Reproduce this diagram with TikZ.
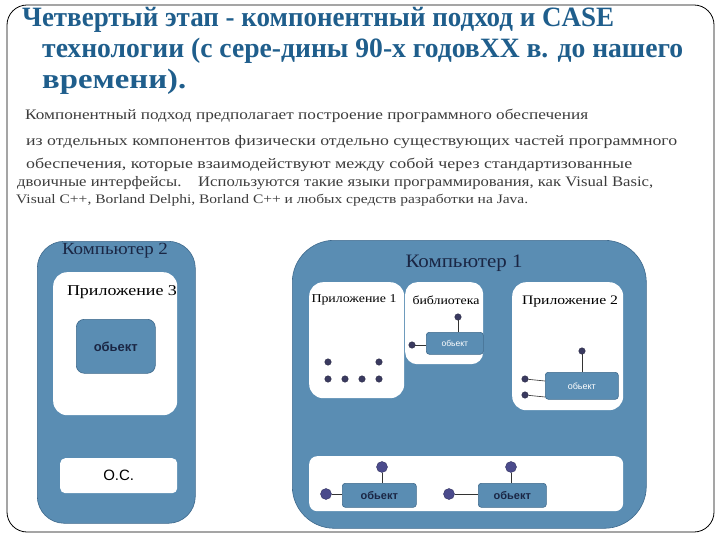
\documentclass[tikz,border=0pt]{standalone}
\usepackage{fontspec}
\usepackage{graphicx}
\setmainfont{Liberation Serif}
\newfontfamily\sansf{Liberation Sans}
\definecolor{ttl}{RGB}{31,94,140}
\definecolor{ptxt}{RGB}{60,60,60}
\definecolor{cblue}{RGB}{90,141,179}
\definecolor{cedge}{RGB}{62,105,140}
\definecolor{dotc}{RGB}{58,58,96}
\definecolor{dotb}{RGB}{75,75,140}
\definecolor{lbl}{RGB}{26,38,68}
\newcommand{\fitw}[2]{\resizebox{#1pt}{\height}{#2}}
\begin{document}
\begin{tikzpicture}[x=1pt,y=-1pt,
  txt/.style={inner sep=0pt,anchor=base west},
  comp/.style={draw=cedge,line width=0.6pt,fill=cblue,anchor=north west,inner sep=0pt},
  wbox/.style={fill=white,anchor=north west,inner sep=0pt},
  obj/.style={draw=cedge,line width=0.6pt,fill=cblue,anchor=north west,inner sep=0pt},
  dotn/.style={circle,fill=dotc,draw=dotc!70!black,inner sep=0pt,minimum size=6.5pt},
  dotbig/.style={circle,fill=dotb,draw=dotb!70!black,inner sep=0pt,minimum size=11pt},
  conn/.style={draw=black!80,line width=0.6pt}]
\useasboundingbox (0,0) rectangle (720,540);
% frame
\draw[line width=0.8pt,rounded corners=20pt] (7,5) rectangle (714,532);
% title
\node[txt,text=ttl,font=\fontsize{28}{30}\selectfont\bfseries] (t1) at (22,27) {\fitw{592}{Четвертый этап - компонентный подход и CASE}};
\node[txt,text=ttl,font=\fontsize{28}{30}\selectfont\bfseries] (t2) at (42,58) {\fitw{641}{технологии (с сере-дины 90-х годовXX в. до нашего}};
\node[txt,text=ttl,font=\fontsize{28}{30}\selectfont\bfseries] (t3) at (42,89) {\fitw{144}{времени).}};
% paragraph
\node[txt,text=ptxt,font=\fontsize{14.5}{16}\selectfont] (p1) at (25,120) {\fitw{563}{Компонентный подход предполагает построение программного обеспечения}};
\node[txt,text=ptxt,font=\fontsize{14.5}{16}\selectfont] (p2) at (26,146) {\fitw{651}{из отдельных компонентов физически отдельно существующих частей программного}};
\node[txt,text=ptxt,font=\fontsize{14.5}{16}\selectfont] (p3) at (26,169) {\fitw{606}{обеспечения, которые взаимодействуют между собой через стандартизованные}};
\node[txt,text=ptxt,font=\fontsize{14.5}{16}\selectfont] (p4) at (17,187) {\fitw{636}{двоичные интерфейсы.\quad Используются такие языки программирования, как Visual Basic,}};
\node[txt,text=ptxt,font=\fontsize{13}{14}\selectfont] (p5) at (16,204) {\fitw{512}{Visual C++, Borland Delphi, Borland C++ и любых средств разработки на Java.}};
% computer 2
\node[comp,rounded corners=27pt,minimum width=158pt,minimum height=282pt] (c2) at (37,241) {};
\node[text=lbl,font=\fontsize{17}{18}\selectfont,inner sep=0pt] (c2l) at (115,251) {\fitw{106}{Компьютер 2}};
\node[wbox,rounded corners=14pt,minimum width=124pt,minimum height=143pt] (app3) at (53,272) {};
\node[font=\fontsize{15}{16}\selectfont,inner sep=0pt] (app3l) at (122,292) {\fitw{110}{Приложение 3}};
\node[obj,rounded corners=8pt,minimum width=79pt,minimum height=54pt,text=lbl,font=\sansf\bfseries\fontsize{13}{14}\selectfont] (o3) at (76,319) {обьект};
\node[wbox,rounded corners=5pt,minimum width=117pt,minimum height=35pt,font=\sansf\fontsize{15}{16}\selectfont] (os) at (60,458) {О.С.};
% computer 1
\node[comp,rounded corners=42pt,minimum width=354pt,minimum height=288pt] (c1) at (292,240) {};
\node[text=lbl,font=\fontsize{19}{20}\selectfont,inner sep=0pt] (c1l) at (464,263) {\fitw{117}{Компьютер 1}};
% app 1
\node[wbox,rounded corners=14pt,minimum width=95pt,minimum height=116pt] (app1) at (309,282) {};
\node[font=\fontsize{12}{13}\selectfont,inner sep=0pt] (app1l) at (354,300) {\fitw{85}{Приложение 1}};
\node[dotn] (a1) at (328,362) {};
\node[dotn] (a2) at (379,362) {};
\node[dotn] (a3) at (328,379) {};
\node[dotn] (a4) at (345,379) {};
\node[dotn] (a5) at (362,379) {};
\node[dotn] (a6) at (379,379) {};
% library
\node[wbox,rounded corners=12pt,minimum width=78pt,minimum height=82pt] (lib) at (405,282) {};
\node[font=\fontsize{12}{13}\selectfont,inner sep=0pt] (libl) at (446,300) {\fitw{67}{библиотека}};
\node[obj,rounded corners=3pt,minimum width=57pt,minimum height=22pt,text=white,font=\sansf\fontsize{8.5}{9}\selectfont] (ol) at (426,332) {обьект};
\node[dotn] (l1) at (458,317) {};
\node[dotn] (l2) at (412,345) {};
\draw[conn] (l1) -- (l1 |- ol.north);
\draw[conn] (l2) -- (l2 -| ol.west);
% app 2
\node[wbox,rounded corners=14pt,minimum width=111pt,minimum height=128pt] (app2) at (512,282) {};
\node[font=\fontsize{13}{14}\selectfont,inner sep=0pt] (app2l) at (570,302) {\fitw{96}{Приложение 2}};
\node[obj,rounded corners=3pt,minimum width=73pt,minimum height=27pt,text=white,font=\sansf\fontsize{9}{10}\selectfont] (o2) at (545,372) {обьект};
\node[dotn] (b1) at (582,351) {};
\node[dotn] (b2) at (525,379) {};
\node[dotn] (b3) at (525,395) {};
\draw[conn] (b1) -- (b1 |- o2.north);
\draw[conn] (b2) -- ([yshift=-2pt]o2.west |- b2);
\draw[conn] (b3) -- ([yshift=-2pt]o2.west |- b3);
% bottom strip
\node[wbox,rounded corners=8pt,minimum width=314pt,minimum height=55pt] (strip) at (309,456) {};
\node[obj,rounded corners=3pt,minimum width=74pt,minimum height=24pt,text=lbl,font=\sansf\bfseries\fontsize{11}{12}\selectfont] (s1) at (342,483) {обьект};
\node[obj,rounded corners=3pt,minimum width=68pt,minimum height=24pt,text=lbl,font=\sansf\bfseries\fontsize{11}{12}\selectfont] (s2) at (478,483) {обьект};
\node[dotbig] (e1) at (382,467) {};
\node[dotbig] (e2) at (326,494) {};
\node[dotbig] (e3) at (511,467) {};
\node[dotbig] (e4) at (449,494) {};
\draw[conn] (e1) -- (e1 |- s1.north);
\draw[conn] (e2) -- (e2 -| s1.west);
\draw[conn] (e3) -- (e3 |- s2.north);
\draw[conn] (e4) -- (e4 -| s2.west);
\end{tikzpicture}
\end{document}
